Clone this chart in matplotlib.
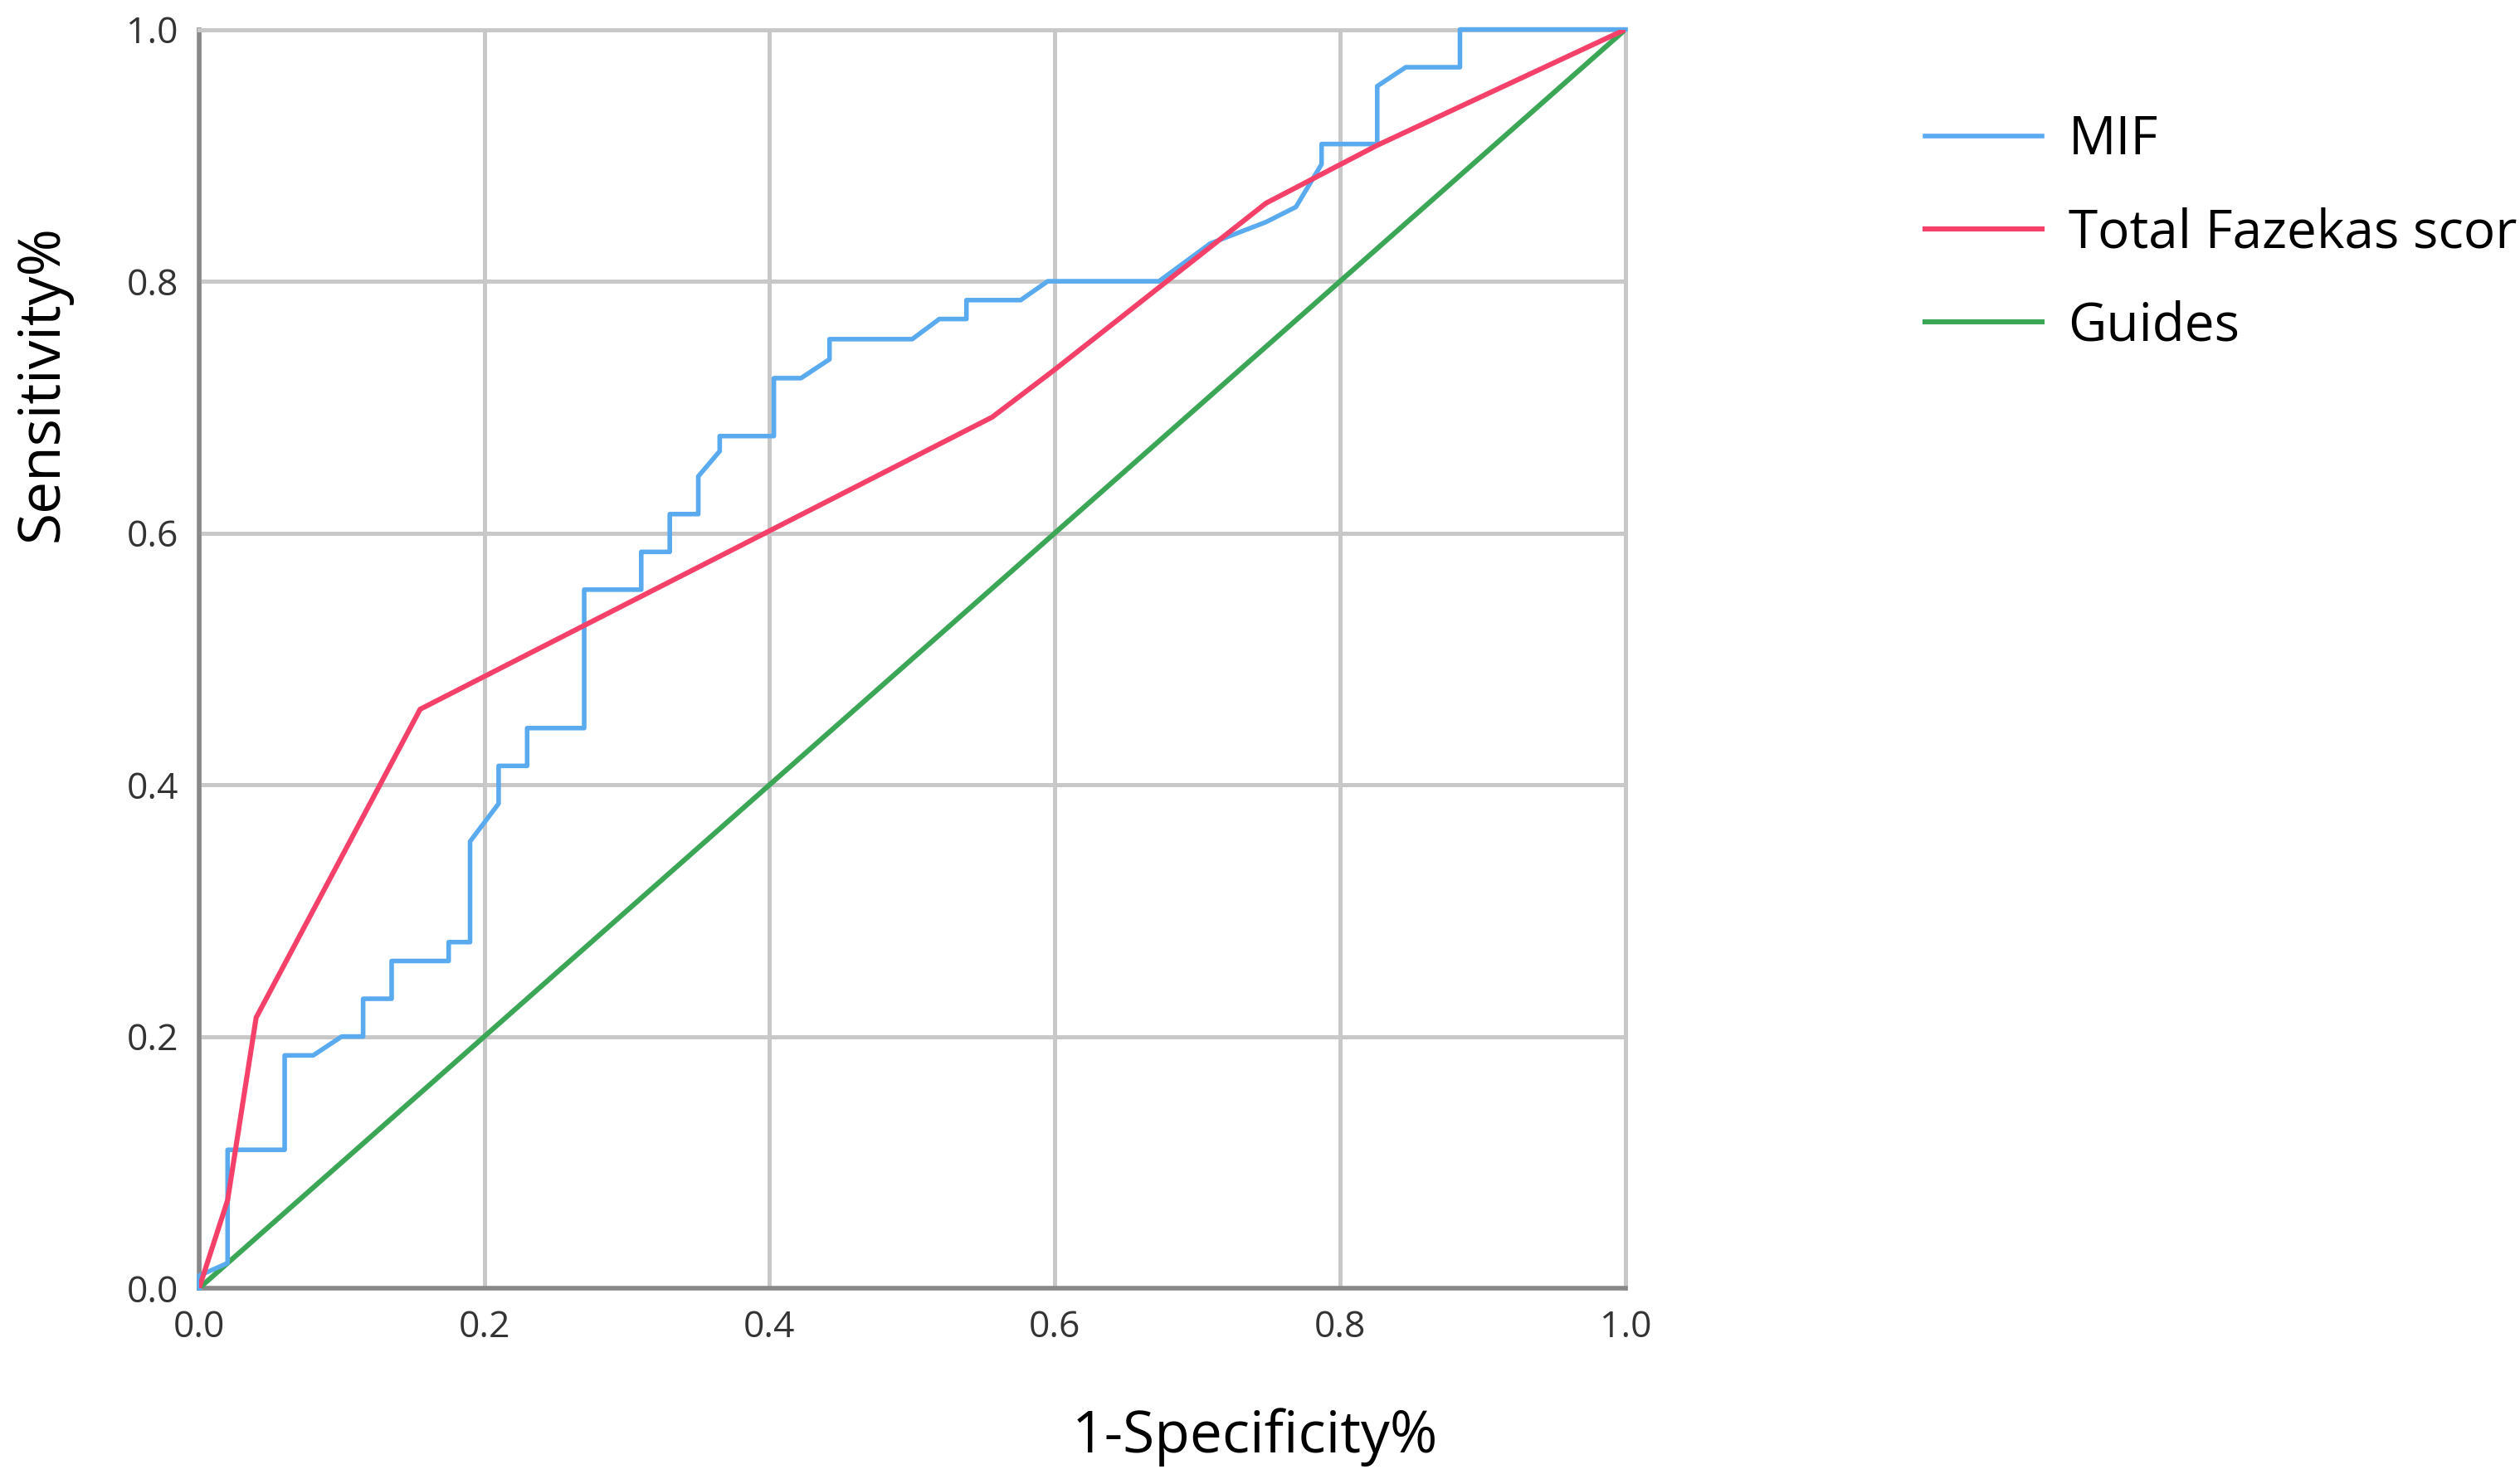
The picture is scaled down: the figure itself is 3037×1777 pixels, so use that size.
import matplotlib
matplotlib.use("Agg")
import matplotlib.pyplot as plt

plt.rcParams["font.family"] = ["Open Sans", "DejaVu Sans"]

# MIF ROC curve (1-specificity, sensitivity)
mif_x = [0.0, 0.0, 0.02, 0.02, 0.06, 0.06, 0.08, 0.10, 0.115, 0.115, 0.135, 0.135,
         0.175, 0.175, 0.19, 0.19, 0.21, 0.21, 0.23, 0.23, 0.27, 0.27, 0.31, 0.31,
         0.33, 0.33, 0.35, 0.35, 0.365, 0.365, 0.403, 0.403, 0.422, 0.442, 0.442,
         0.50, 0.519, 0.538, 0.538, 0.576, 0.595, 0.673, 0.709, 0.748, 0.769, 0.787,
         0.787, 0.826, 0.826, 0.846, 0.884, 0.884, 1.0]
mif_y = [0.0, 0.01, 0.02, 0.11, 0.11, 0.185, 0.185, 0.20, 0.20, 0.23, 0.23, 0.26,
         0.26, 0.275, 0.275, 0.355, 0.385, 0.415, 0.415, 0.445, 0.445, 0.555, 0.555,
         0.585, 0.585, 0.615, 0.615, 0.645, 0.665, 0.677, 0.677, 0.723, 0.723, 0.738,
         0.754, 0.754, 0.770, 0.770, 0.785, 0.785, 0.80, 0.80, 0.83, 0.847, 0.859,
         0.893, 0.909, 0.909, 0.955, 0.970, 0.970, 1.0, 1.0]

# Total Fazekas score ROC curve
faz_x = [0.0, 0.02, 0.04, 0.155, 0.556, 0.599, 0.748, 0.826, 1.0]
faz_y = [0.0, 0.07, 0.215, 0.46, 0.692, 0.729, 0.862, 0.908, 1.0]

# reference diagonal
guide_x = [0.0, 1.0]
guide_y = [0.0, 1.0]

ticks = [0.0, 0.2, 0.4, 0.6, 0.8, 1.0]

fig = plt.figure(figsize=(15.185, 8.885), dpi=200)
ax = fig.add_axes([0.079, 0.126, 0.566, 0.854])

ax.plot(mif_x, mif_y, color="#5aaaf0", lw=2.0, label="MIF", clip_on=False, zorder=4)
ax.plot(faz_x, faz_y, color="#f5416a", lw=2.2, label="Total Fazekas score", zorder=5)
ax.plot(guide_x, guide_y, color="#3aa656", lw=2.2, label="Guides", zorder=3)

ax.set_xlim(0, 1)
ax.set_ylim(0, 1)
ax.set_xticks(ticks)
ax.set_yticks(ticks)
ax.set_xticklabels([f"{t:.1f}" for t in ticks])
ax.set_yticklabels([f"{t:.1f}" for t in ticks])
ax.tick_params(labelsize=16, length=0, pad=9, colors="#333333")
ax.grid(True, color="#c8c8c8", lw=1.8)
ax.set_axisbelow(True)
for side in ["top", "right"]:
    ax.spines[side].set_color("#c8c8c8")
    ax.spines[side].set_linewidth(1.8)
for side in ["left", "bottom"]:
    ax.spines[side].set_color("#888888")
    ax.spines[side].set_linewidth(2.0)

fig.text(0.498, 0.025, "1-Specificity%", fontsize=25, ha="center", va="center")
fig.text(0.017, 0.74, "Sensitivity%", fontsize=25, ha="center", va="center",
         rotation=90)

fig.legend(loc="upper left", bbox_to_anchor=(0.745, 0.955), frameon=False,
           fontsize=23, handlelength=2.2, labelspacing=0.75, handletextpad=0.5)

fig.savefig("out.png", dpi=200)
